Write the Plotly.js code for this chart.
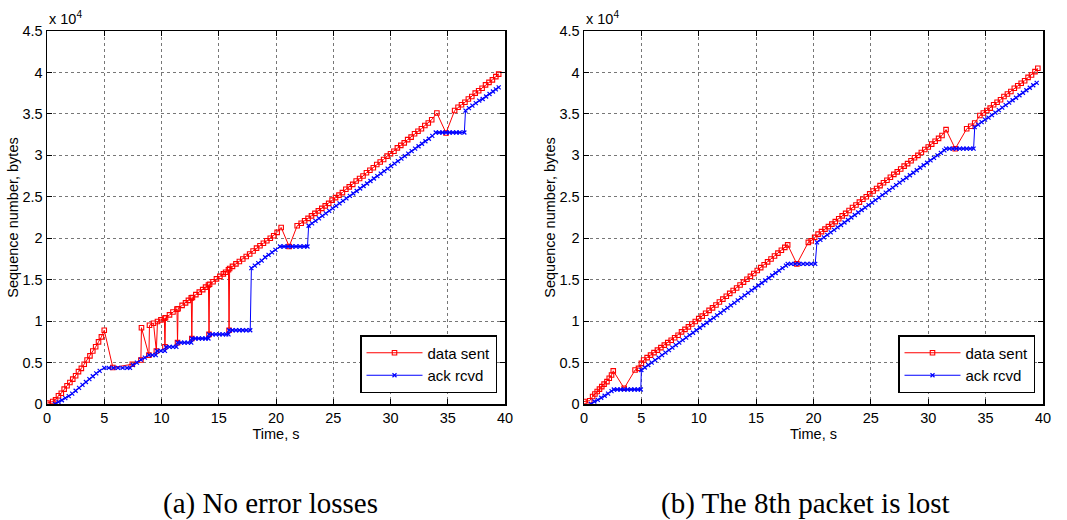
<!DOCTYPE html>
<html>
<head>
<meta charset="utf-8">
<script src="https://cdn.plot.ly/plotly-3.0.1.min.js"></script>
<style>html,body{margin:0;padding:0;background:#fff;}#chart{width:1067px;height:520px;}</style>
</head>
<body>
<div id="chart"></div>
<script>
// ---- Data ----
// (a) No error losses
const aSentT = [0,0.5,0.75,1.0,1.25,1.5,1.75,2.0,2.25,2.5,2.75,3.0,3.25,3.5,3.75,4.0,4.25,4.5,4.75,5.0,
  5.75,7.45,8.2,8.25,8.9,8.95,9.3,9.55,9.65,9.95,10.25,10.3,10.35,10.7,11.0,11.35,11.4,11.45,11.8,12.1,12.35,12.6,12.65,12.7,13.0,13.3,13.6,13.85,14.1,14.15,14.2,14.5,14.8,15.1,15.4,15.6,15.85,15.9,15.95,16.2,16.5,16.8,17.1,17.4,17.7,18.0,18.3,18.6,18.9,19.2,19.5,19.8,20.1,20.45,
  21.15,21.85,22.2,22.5,22.8,23.1,23.4,23.7,24.0,24.3,24.6,24.9,25.2,25.5,25.8,26.1,26.4,26.7,27.0,27.3,27.6,27.9,28.2,28.5,28.8,29.1,29.4,29.7,30.0,30.3,30.6,30.9,31.2,31.5,31.8,32.1,32.4,32.7,33.0,33.3,33.6,34.05,
  34.85,35.6,35.9,36.2,36.5,36.8,37.1,37.4,37.7,38.0,38.3,38.6,38.9,39.2,39.45];
const aSentV = [100,300,500,1000,1300,1800,2200,2600,3000,3400,3900,4300,4800,5300,5800,6400,6900,7500,8100,8900,
  4400,4800,5300,9200,5900,9500,9750,6400,9950,10150,10350,6900,10400,10750,11100,11450,7400,11500,11900,12200,12500,12800,7900,12850,13200,13500,13800,14100,14350,8400,14450,14750,15100,15400,15700,15900,16200,8900,16350,16600,16900,17200,17500,17800,18100,18450,18800,19100,19400,19700,20000,20300,20700,21300,
  19000,21500,21800,22100,22400,22700,23000,23300,23600,23900,24200,24600,24900,25200,25500,25900,26200,26500,26900,27200,27500,27900,28200,28500,28900,29200,29500,29900,30200,30500,30900,31200,31500,31900,32200,32600,32900,33200,33600,33900,34300,35100,
  32700,35400,35800,36100,36400,36800,37100,37500,37800,38100,38500,38800,39100,39500,39800];
const aAckT = [0.7,1.0,1.3,1.6,1.9,2.2,2.5,2.8,3.1,3.4,3.7,4.0,4.3,4.6,5.0,
  5.4,5.8,6.2,6.6,7.0,7.25,
  7.5,7.85,8.2,8.55,8.9,9.2,9.5,
  9.6,9.95,10.3,
  10.4,10.7,11.0,11.3,
  11.4,11.7,12.0,12.3,12.6,
  12.65,12.95,13.25,13.55,13.85,14.1,
  14.15,14.45,14.75,15.05,15.35,15.65,15.85,
  15.9,16.2,16.5,16.8,17.1,17.4,17.75,
  17.85,18.15,18.45,18.75,19.05,19.35,19.65,19.95,20.35,
  20.7,21.05,21.4,21.75,22.1,22.45,22.75,
  22.85,23.15,23.45,23.75,24.05,24.35,24.65,24.95,25.25,25.55,25.85,26.15,26.45,26.75,27.05,27.35,27.65,27.95,28.25,28.55,28.85,29.15,29.45,29.75,30.05,30.35,30.65,30.95,31.25,31.55,31.85,32.15,32.45,32.75,33.05,33.35,33.65,33.95,
  34.25,34.55,34.85,35.15,35.45,35.75,36.05,36.45,
  36.55,36.85,37.15,37.45,37.75,38.05,38.35,38.65,38.95,39.2,39.45];
const aAckV = [0,250,450,700,950,1250,1600,1950,2300,2650,3000,3350,3700,4000,4350,
  4350,4350,4350,4350,4350,4350,
  4700,5000,5350,5600,5900,5900,5900,
  6400,6400,6400,
  6900,6900,6900,6900,
  7400,7400,7400,7400,7400,
  7900,7900,7900,7900,7900,7900,
  8400,8400,8400,8400,8400,8400,8400,
  8900,8900,8900,8900,8900,8900,8900,
  16400,16700,17000,17300,17700,18000,18300,18600,19000,
  19000,19000,19000,19000,19000,19000,19000,
  21500,21800,22100,22400,22700,23000,23300,23600,23900,24200,24500,24800,25100,25400,25700,26000,26300,26600,26900,27200,27500,27800,28100,28400,28700,29000,29300,29600,29900,30200,30500,30800,31100,31400,31700,32000,32350,32750,
  32750,32750,32750,32750,32750,32750,32750,32750,
  35400,35700,36000,36300,36600,36800,37100,37400,37700,37950,38200];

// (b) The 8th packet is lost
const bSentT = [0,0.5,0.75,0.95,1.15,1.35,1.55,1.75,2.0,2.2,2.4,2.55,
  3.5,
  4.45,4.75,5.0,5.2,
  5.5,5.8,6.1,6.4,6.7,7.0,7.3,7.6,7.9,8.2,8.5,8.8,9.1,9.4,9.7,10.0,10.3,10.6,10.9,11.2,11.5,11.8,12.1,12.4,12.7,13.0,13.3,13.6,13.9,14.2,14.5,14.8,15.1,15.4,15.7,16.0,16.3,16.6,16.9,17.2,17.5,
  17.75,
  18.55,
  19.55,19.8,20.1,20.4,
  20.7,21.0,21.3,21.6,21.9,22.2,22.5,22.8,23.1,23.4,23.7,24.0,24.3,24.6,24.9,25.2,25.5,25.8,26.1,26.4,26.7,27.0,27.3,27.6,27.9,28.2,28.5,28.8,29.1,29.4,29.7,30.0,30.3,30.6,30.9,31.2,
  31.55,
  32.35,
  33.35,33.7,34.05,34.5,34.8,
  35.1,35.4,35.7,36.0,36.3,36.6,36.9,37.2,37.5,37.8,38.1,38.4,38.7,39.0,39.3,
  39.55];
const bSentV = [300,400,900,1200,1500,1800,2100,2400,2700,3100,3500,4000,
  1900,
  4100,4300,4900,5300,
  5600,5900,6200,6500,6800,7100,7400,7700,8000,8300,8700,9000,9300,9650,9950,10300,10600,10950,11300,11600,11950,12300,12650,13000,13350,13700,14000,14350,14700,15050,15400,15750,16100,16450,16800,17150,17500,17850,18200,18550,18900,
  19200,
  16900,
  19500,19700,20100,20500,
  20800,21100,21400,21700,22000,22350,22700,23000,23350,23700,24000,24350,24700,25000,25350,25700,26000,26350,26700,27000,27350,27700,28000,28350,28700,29000,29350,29700,30000,30350,30700,31000,31350,31700,32050,32400,
  33100,
  30800,
  33200,33500,33900,34800,35100,
  35400,35700,36100,36400,36700,37100,37400,37700,38100,38400,38700,39000,39400,39700,40100,
  40500];
const bAckT = [0.6,0.9,1.2,1.5,1.8,2.1,2.4,2.6,
  2.9,3.2,3.5,3.8,4.1,4.4,4.7,4.95,
  5.0,5.3,5.6,5.9,6.2,6.5,6.8,7.1,7.4,7.7,8.0,8.3,8.6,8.9,9.2,9.5,9.8,10.1,10.4,10.7,11.0,11.3,11.6,11.9,12.2,12.5,12.8,13.1,13.4,13.7,14.0,14.3,14.6,14.9,15.2,15.5,15.8,16.1,16.4,16.7,17.0,17.3,17.6,
  17.75,
  18.05,18.4,18.75,19.1,19.45,19.8,20.15,
  20.3,
  20.6,20.9,21.2,21.5,21.8,22.1,22.4,22.7,23.0,23.3,23.6,23.9,24.2,24.5,24.8,25.1,25.4,25.7,26.0,26.3,26.6,26.9,27.2,27.5,27.8,28.1,28.4,28.7,29.0,29.3,29.6,29.9,30.2,30.5,30.8,31.1,31.4,
  31.55,
  31.85,32.15,32.45,32.75,33.05,33.35,33.65,33.95,
  34.05,
  34.35,34.65,34.95,35.25,35.55,35.85,36.15,36.45,36.75,37.05,37.35,37.65,37.95,38.25,38.55,38.85,39.15,39.45];
const bAckV = [0,300,500,750,1000,1250,1550,1750,
  1750,1750,1750,1750,1750,1750,1750,1750,
  4100,4400,4700,5000,5300,5600,5900,6200,6500,6800,7100,7400,7700,8000,8300,8600,8900,9200,9500,9800,10100,10400,10700,11000,11300,11600,11900,12200,12500,12800,13100,13400,13700,14000,14300,14600,14900,15200,15500,15800,16100,16400,16700,
  16900,
  16900,16900,16900,16900,16900,16900,16900,
  19500,
  19800,20100,20400,20700,21000,21300,21600,21900,22200,22500,22800,23100,23400,23700,24000,24300,24600,24900,25200,25500,25800,26100,26400,26700,27000,27300,27600,27900,28200,28500,28800,29100,29400,29700,30000,30300,30600,
  30800,
  30800,30800,30800,30800,30800,30800,30800,30800,
  33400,
  33700,34000,34300,34550,34850,35150,35450,35750,36050,36350,36650,36950,37250,37550,37850,38150,38450,38750];

// Axis ticks
const xTickVals = [0,5,10,15,20,25,30,35,40];
const yTickVals = [0,5000,10000,15000,20000,25000,30000,35000,40000,45000];
const yTickText = ["0","0.5","1","1.5","2","2.5","3","3.5","4","4.5"];
const seriesNames = ["data sent","ack rcvd"];
const captions = ["(a) No error losses","(b) The 8th packet is lost"];
const xTitle = "Time, s";
const yTitle = "Sequence number, bytes";
const expLabel = "x 10<sup>4</sup>";

// ---- Styles ----
const RED = "#ff0000", BLUE = "#0000ff";
const FONT = "Liberation Sans, Arial, sans-serif";
const sentStyle = {mode:"lines+markers", line:{color:RED,width:1},
  marker:{symbol:"square-open", size:4.5, color:RED, line:{color:RED,width:1.1}}};
const ackStyle = {mode:"lines+markers", line:{color:BLUE,width:1},
  marker:{symbol:"x-thin-open", size:4, color:BLUE, line:{color:BLUE,width:1.2}}};

const traces = [
  Object.assign({x:aSentT, y:aSentV, name:seriesNames[0], xaxis:"x", yaxis:"y", legend:"legend"}, sentStyle),
  Object.assign({x:aAckT, y:aAckV, name:seriesNames[1], xaxis:"x", yaxis:"y", legend:"legend"}, ackStyle),
  Object.assign({x:bSentT, y:bSentV, name:seriesNames[0], xaxis:"x2", yaxis:"y2", legend:"legend2"}, sentStyle),
  Object.assign({x:bAckT, y:bAckV, name:seriesNames[1], xaxis:"x2", yaxis:"y2", legend:"legend2"}, ackStyle)
];

const TF = 14.5;
function xAxis(domain, anchor){
  return {domain:domain, anchor:anchor, range:[0,40], tickvals:xTickVals, ticks:"inside", ticklen:5,
    tickcolor:"#000", showline:true, linecolor:"#000", linewidth:1.5, mirror:"ticks",
    showgrid:true, gridcolor:"#777", griddash:"dot", gridwidth:1, zeroline:false,
    tickfont:{family:FONT,size:TF,color:"#000"},
    title:{text:xTitle, font:{family:FONT,size:TF,color:"#000"}, standoff:2}};
}
function yAxis(anchor){
  return {domain:[0,1], anchor:anchor, range:[0,45000], tickvals:yTickVals, ticktext:yTickText,
    ticks:"inside", ticklen:5, tickcolor:"#000", showline:true, linecolor:"#000", linewidth:1.5,
    mirror:"ticks", showgrid:true, gridcolor:"#777", griddash:"dot", gridwidth:1, zeroline:false,
    tickfont:{family:FONT,size:TF,color:"#000"},
    title:{text:yTitle, font:{family:FONT,size:TF,color:"#000"}, standoff:0}};
}
const M = {l:47, r:24, t:31, b:116};
const W = 1067 - M.l - M.r, H = 520 - M.t - M.b;
const legendBase = {bgcolor:"#fff", bordercolor:"#000", borderwidth:1.5,
  font:{family:FONT,size:15,color:"#000"}, xanchor:"right", yanchor:"bottom", y:(404-393)/H,
  itemwidth:56, tracegroupgap:0};

const capFont = {family:"Liberation Serif, Times New Roman, serif",size:29,color:"#000"};
const layout = {
  width:1067, height:520, margin:M, paper_bgcolor:"#fff", plot_bgcolor:"#fff", showlegend:true,
  xaxis: xAxis([0,(505-47)/W],"y"),
  yaxis: yAxis("x"),
  xaxis2: xAxis([(584-47)/W,1.0],"y2"),
  yaxis2: yAxis("x2"),
  legend: Object.assign({x:(497-47)/W}, legendBase),
  legend2: Object.assign({x:(1035-47)/W}, legendBase),
  annotations:[
    {text:expLabel, xref:"x domain", yref:"y domain", x:0, y:1, xanchor:"left", yanchor:"bottom",
     yshift:2, showarrow:false, font:{family:FONT,size:TF,color:"#000"}},
    {text:expLabel, xref:"x2 domain", yref:"y2 domain", x:0, y:1, xanchor:"left", yanchor:"bottom",
     yshift:2, showarrow:false, font:{family:FONT,size:TF,color:"#000"}},
    {text:captions[0], xref:"paper", yref:"paper", x:(270-47)/W, y:-(503-404)/H, xanchor:"center", yanchor:"middle",
     showarrow:false, font:capFont},
    {text:captions[1], xref:"paper", yref:"paper", x:(805-47)/W, y:-(503-404)/H, xanchor:"center", yanchor:"middle",
     showarrow:false, font:capFont}
  ]
};
Plotly.newPlot("chart", traces, layout, {staticPlot:true, displayModeBar:false});
</script>
</body>
</html>
